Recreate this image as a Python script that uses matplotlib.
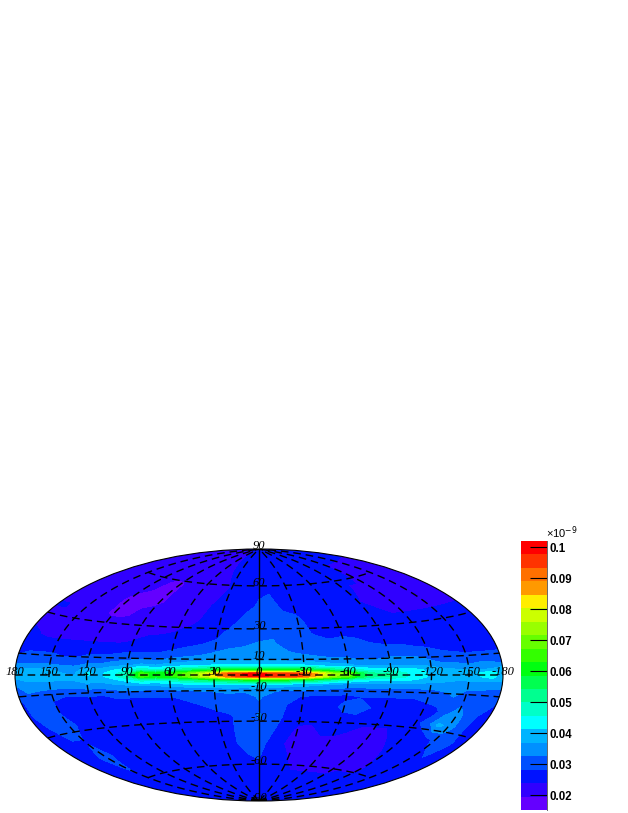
import numpy as np
import matplotlib
matplotlib.use('Agg')
import matplotlib.pyplot as plt
from matplotlib.cm import ScalarMappable
from matplotlib.colors import BoundaryNorm, ListedColormap

# longitude nodes, left to right on the map
lons = [180, 170, 160, 150, 140, 130, 120, 110, 100, 90, 80, 70, 60, 50, 40, 30, 20, 10, 0,
        -10, -20, -30, -40, -50, -60, -70, -80, -90, -100, -110, -120, -130, -140, -150, -160, -170, -180]
lats = [90, 72, 58, 45, 35, 27, 20, 14, 10, 6, 3, 1, -1, -3, -6, -10, -14, -20, -27, -35, -45, -58, -72, -90]

# map values, units of 1e-12
p90 = [24] * 37
p72 = [23, 23, 23, 23, 23, 23, 23, 23, 23, 23, 23, 23, 23, 23, 24, 24, 25, 26, 27,
       26, 26, 26, 25, 25, 25, 25, 24, 24, 24, 24, 24, 24, 24, 24, 24, 24, 24]
p58 = [23, 23, 23, 22, 21, 21, 21, 20, 19, 19, 20, 21, 22, 23, 23, 24, 26, 27, 27,
       27, 27, 26, 25, 25, 25, 24, 24, 24, 24, 24, 23, 23, 23, 23, 23, 23, 23]
p45 = [23, 23, 22, 21, 20, 20, 19, 19, 19, 19, 20, 21, 22, 23, 24, 25, 26, 27, 29,
       31, 27, 27, 26, 26, 25, 25, 24, 24, 23, 23, 23, 23, 23, 23, 23, 23, 23]
p35 = [24, 24, 23, 23, 22, 20, 19, 19, 20, 21, 22, 22, 23, 23, 25, 26, 27, 30, 31,
       31, 31, 29, 27, 27, 27, 27, 26, 26, 25, 24, 24, 24, 24, 24, 24, 24, 24]
p27 = [23, 23, 23, 22, 22, 22, 22, 22, 23, 23, 23, 23, 24, 25, 26, 27, 30, 31, 31,
       32, 31, 29, 28, 27, 27, 27, 26, 25, 25, 24, 24, 24, 24, 24, 24, 24, 24]
p20 = [25, 24, 23, 23, 23, 23, 23, 23, 23, 24, 25, 26, 26, 27, 28, 29, 31, 32, 33,
       33, 31, 29, 29, 29, 30, 29, 28, 27, 27, 26, 26, 26, 25, 25, 25, 25, 25]
p14 = [27, 27, 27, 27, 27, 27, 27, 27, 27, 28, 28, 28, 29, 30, 31, 33, 34, 34, 34,
       34, 33, 32, 31, 31, 31, 30, 31, 31, 31, 30, 29, 28, 27, 27, 27, 27, 27]
p10 = [28, 29, 29, 29, 28, 28, 29, 29, 30, 31, 32, 31, 33, 34, 35, 36, 36, 36, 36,
       36, 35, 35, 34, 33, 33, 32, 32, 33, 33, 33, 31, 30, 30, 29, 29, 29, 29]
p6 = [31, 32, 32, 32, 31, 31, 33, 33, 35, 36, 38, 37, 39, 40, 41, 42, 43, 43, 42,
      42, 42, 42, 40, 39, 38, 36, 36, 36, 36, 36, 35, 33, 33, 32, 33, 33, 32]
p3 = [36, 37, 37, 37, 36, 35, 39, 38, 41, 44, 50, 46, 50, 54, 56, 60, 62, 64, 64,
      64, 64, 62, 58, 54, 50, 46, 44, 44, 44, 42, 40, 38, 37, 37, 36, 37, 39]
p1 = [38, 38, 37, 38, 37, 36, 42, 40, 44, 50, 66, 60, 62, 68, 76, 84, 94, 98, 99,
      96, 95, 94, 84, 74, 70, 56, 50, 50, 46, 44, 40, 40, 38, 38, 42, 44, 38]
m1 = [38, 38, 38, 38, 37, 37, 41, 40, 44, 50, 66, 60, 62, 68, 75, 82, 92, 97, 99,
      97, 95, 93, 82, 72, 68, 56, 50, 50, 46, 44, 40, 40, 38, 38, 41, 43, 38]
m3 = [35, 37, 37, 37, 37, 37, 39, 38, 40, 43, 48, 46, 48, 52, 54, 56, 58, 60, 60,
      60, 60, 58, 54, 50, 47, 44, 42, 42, 42, 40, 39, 38, 37, 37, 37, 37, 37]
m6 = [32, 34, 34, 34, 34, 34, 35, 35, 36, 37, 38, 38, 39, 40, 41, 41, 42, 42, 42,
      41, 40, 39, 38, 36, 35, 35, 35, 35, 35, 35, 34, 34, 33, 33, 33, 33, 33]
m10 = [29, 32, 31, 30, 29, 29, 30, 29, 31, 31, 31, 31, 31, 32, 33, 33, 34, 33, 34,
       33, 32, 32, 31, 31, 30, 30, 30, 30, 30, 30, 31, 32, 33, 32, 32, 31, 30]
m14 = [27, 31, 30, 28, 27, 27, 27, 27, 28, 28, 28, 28, 28, 29, 30, 31, 31, 31, 33,
       31, 29, 28, 27, 27, 27, 28, 28, 28, 28, 28, 29, 30, 32, 31, 30, 30, 28]
m20 = [27, 30, 32, 28, 27, 27, 26, 26, 26, 26, 26, 26, 27, 27, 28, 29, 29, 30, 32,
       30, 28, 27, 26, 26, 30, 32, 28, 26, 26, 26, 26, 27, 31, 35, 30, 28, 27]
m27 = [27, 28, 30, 31, 27, 26, 26, 26, 26, 26, 27, 26, 26, 26, 27, 27, 28, 30, 33,
       31, 27, 26, 25, 25, 26, 26, 25, 25, 25, 26, 27, 30, 38, 36, 30, 27, 26]
m35 = [26, 27, 28, 28, 28, 27, 26, 26, 26, 26, 26, 26, 26, 26, 26, 27, 28, 30, 31,
       29, 26, 23, 23, 25, 25, 24, 23, 23, 23, 25, 26, 26, 27, 29, 30, 28, 27]
m45 = [28, 28, 28, 29, 28, 27, 27, 27, 27, 27, 27, 27, 27, 27, 27, 27, 28, 30, 30,
       27, 24, 23, 22, 22, 22, 22, 22, 22, 22, 23, 25, 26, 26, 27, 28, 28, 28]
m58 = [28, 28, 28, 28, 28, 27, 27, 27, 27, 28, 27, 27, 27, 27, 27, 27, 27, 27, 28,
       27, 27, 24, 23, 23, 23, 23, 23, 23, 23, 23, 23, 25, 26, 27, 27, 28, 28]
m72 = [27, 27, 27, 27, 27, 27, 27, 27, 27, 27, 27, 27, 27, 27, 27, 27, 27, 27, 27,
       27, 27, 25, 25, 25, 25, 25, 25, 25, 27, 27, 27, 27, 27, 27, 27, 27, 27]
m90 = [27] * 37

# colour bar
palette = ['#6400ff', '#3000ff', '#0012ff', '#0050ff', '#0090ff', '#00b4ff', '#00ffff', '#00ffc8',
           '#00ff90', '#00ff50', '#00ff10', '#33ff00', '#66ff00', '#99ff00', '#ccff00', '#ffee00',
           '#ff9900', '#ff7000', '#ff3300', '#ff0000']
z_min = 15.2
z_max = 102.0
bar_ticks = [20, 30, 40, 50, 60, 70, 80, 90, 100]
bar_labels = ['0.02', '0.03', '0.04', '0.05', '0.06', '0.07', '0.08', '0.09', '0.1']

# grid
grid_lons = [150, 120, 90, 60, 30, -30, -60, -90, -120, -150]
grid_lats = [60, 30, 10, 0, -10, -30, -60]
lon_text = ['180', '150', '120', '90', '60', '30', '-30', '-60', '-90', '-120', '-150', '-180']
lon_text_at = [180, 150, 120, 90, 60, 30, -30, -60, -90, -120, -150, -180]
lat_text = ['90', '60', '30', '10', '0', '-10', '-30', '-60', '-90']
lat_text_at = [90, 60, 30, 10, 0, -10, -30, -60, -90]

W, H = 628, 813
DASH = (0, (5.5, 3.5))


def box(x0, y0, x1, y1):
    # pixel box, y from the top
    return [x0 / W, 1 - y1 / H, (x1 - x0) / W, (y1 - y0) / H]


field = np.array([p90, p72, p58, p45, p35, p27, p20, p14, p10, p6, p3, p1,
                  m1, m3, m6, m10, m14, m20, m27, m35, m45, m58, m72, m90], dtype=float)
lon_rad = -np.radians(np.array(lons, dtype=float))
lat_rad = np.radians(np.array(lats, dtype=float))
order = np.argsort(lat_rad)

bounds = np.linspace(z_min, z_max, len(palette) + 1)
cmap = ListedColormap(palette)
norm = BoundaryNorm(bounds, len(palette))

fig = plt.figure(figsize=(W / 100, H / 100), dpi=100)
ax = fig.add_axes(box(15, 549, 503, 801), projection='hammer')
ax.set_aspect('auto')
ax.contourf(lon_rad, lat_rad[order], field[order], levels=bounds, cmap=cmap, norm=norm)
ax.grid(False)
ax.xaxis.set_ticklabels([])
ax.yaxis.set_ticklabels([])
for s in ax.spines.values():
    s.set_linewidth(0.8)

for g in grid_lons:
    la = np.radians(np.linspace(-89.9, 89.9, 181))
    ax.plot(np.full(la.shape, -np.radians(g)), la, color='k', lw=1.0, ls=DASH)
ax.plot([0, 0], np.radians([-89.9, 89.9]), color='k', lw=1.0)
for g in grid_lats:
    end = 150 if abs(g) == 60 else 179.9
    lo = np.radians(np.linspace(-end, end, 181))
    ax.plot(lo, np.full(lo.shape, np.radians(g)), color='k', lw=1.0, ls=DASH)

label_font = dict(family='Liberation Serif', style='italic', fontsize=9, ha='center', va='center',
                  textcoords='offset points', annotation_clip=False)
for t, g in zip(lon_text, lon_text_at):
    pos = np.radians(np.clip(-g, -179.9, 179.9))
    ax.annotate(t, (pos, 0), xytext=(0, 2.2), **label_font)
for t, g in zip(lat_text, lat_text_at):
    ax.annotate(t, (0, np.radians(np.clip(g, -89.9, 89.9))), xytext=(0, 2.2), **label_font)

cax = fig.add_axes(box(521, 541, 547, 810))
cb = fig.colorbar(ScalarMappable(norm=norm, cmap=cmap), cax=cax, spacing='proportional',
                  drawedges=False)
cb.outline.set_visible(False)
cb.set_ticks(bar_ticks, labels=bar_labels)
cb.ax.minorticks_off()
cax.tick_params(axis='y', direction='in', length=12, width=0.8, pad=2, color='k')
for lab in cax.get_yticklabels():
    lab.set_family('Liberation Sans')
    lab.set_weight('bold')
    lab.set_fontsize(8.3)
cax.plot([1, 1], [0, 1], transform=cax.transAxes, color='#666666', lw=0.7, clip_on=False)
fig.text(546 / W, 1 - 533 / H, '×10$^{-9}$', family='Liberation Sans', fontsize=8,
         ha='left', va='center')

fig.savefig('out.png', dpi=100)
